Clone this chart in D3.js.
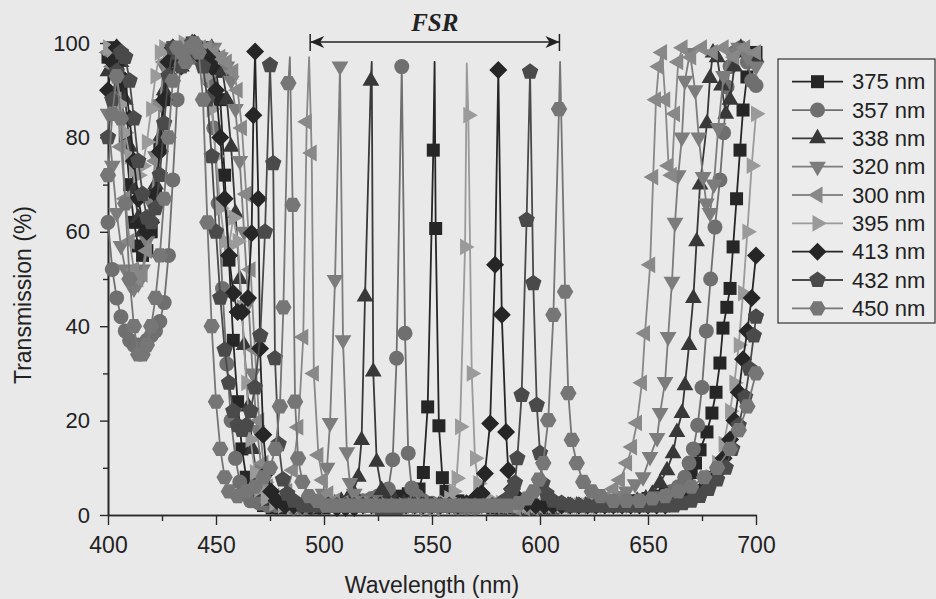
<!DOCTYPE html>
<html>
<head>
<meta charset="utf-8">
<script src="https://cdn.jsdelivr.net/npm/d3@7"></script>
<style>
  html, body { margin: 0; padding: 0; background: #e9e9e9; }
  svg { display: block; }
  text { font-family: "Liberation Sans", Arial, sans-serif; fill: #222; }
</style>
</head>
<body>
<svg id="chart" width="936" height="599"></svg>
<script>
// ---- axis ticks ----
const xMajor = [400, 450, 500, 550, 600, 650, 700];
const xMinor = [425, 475, 525, 575, 625, 675];
const yMajor = [0, 20, 40, 60, 80, 100];
const yMinor = [10, 30, 50, 70, 90];

// ---- free spectral range annotation (nm) ----
const fsrSpan = [493.6, 609];

// ---- legend labels (spacer thickness) ----
const seriesNames = ["375 nm", "357 nm", "338 nm", "320 nm", "300 nm", "395 nm", "413 nm", "432 nm", "450 nm"];

// ---- transmission spectra: [wavelength nm, transmission %] ----
const s375 = [[400,97],[402,99],[404,96],[406,90],[408,80],[410,70],[412,62],[414,57],[416,55],[418,56],[420,60],[422,68],[424,78],[426,88],[428,95],[430,99],[432,98],[434,96],[436,98],[439,100],[442,98],[445,99],[448,97],[450,94],[452,88],[454,72],[456,54],[458,37],[460,24],[462,14],[464,8],[466,5],[469,3],[472,2],[476,1.5],[480,1.5],[484,2],[488,2],[492,1.5],[496,1.5],[500,1.5],[504,2],[508,2],[512,2],[516,2.5],[520,2.5],[524,3],[528,3],[532,3.5],[536,4],[539,4.5],[542,5],[544,5.5],[546,9],[548,22.9],[550.6,77.3],[551.7,60.7],[553.2,18.9],[554.8,7.9],[556.5,5],[559,3.5],[562,3],[566,2.5],[570,2],[574,2],[578,1.5],[582,1.5],[586,1.5],[590,1.5],[594,1.5],[598,1.5],[602,1.5],[606,1.5],[610,2],[614,2],[618,2],[622,2],[626,2],[630,2.5],[634,2.5],[638,3],[642,3],[646,3],[650,3.5],[654,4],[658,4.5],[662,5],[665,5.5],[668,7],[670,9],[672,11],[674.1,13.8],[677.3,17.6],[679.6,21.6],[681.5,26],[683.3,32.2],[684.7,39.6],[686.5,44],[688,48],[689.4,56.8],[691,67],[692.6,77.3],[694,85.8],[695.8,92.8],[697.2,96],[698.6,97.9],[700,98]];
const apex375 = [[551.2,96]];

const s357 = [[400,62],[402,52],[404,46],[406,42],[408,39],[410,37],[412,36],[414,36],[416,36],[418,37],[420,38],[422,39],[424,41],[426,45],[428,55],[430,71],[432,88],[434,97],[437,99],[440,97],[443,99],[445,97],[447,92],[449,82],[451,66],[453,48],[455,32],[457,20],[459,12],[461,7],[463,4.5],[466,3],[470,2.5],[474,2],[478,2],[482,2],[486,1.5],[490,1.5],[494,2],[498,2],[502,2],[506,2.5],[510,2.5],[514,3],[518,3],[522,3.5],[525,4],[528,4.5],[529.8,5.5],[531.8,11.7],[533.6,33.2],[536,95],[537.5,38.5],[539,13.1],[540.6,5.7],[543,4],[546,3],[550,2.5],[554,2],[558,2],[562,1.5],[566,1.5],[570,1.5],[574,2],[578,2],[582,2],[586,2],[590,2],[594,2],[598,2],[602,2],[606,2],[610,2],[614,2],[618,2],[622,2],[626,2],[630,2],[634,2],[638,2.5],[642,2.5],[646,3],[650,3],[654,3.5],[658,4],[661,5],[664,6],[667,8],[669,11],[671,14],[673,19],[675,27],[677,39],[679,50],[681,61],[683.3,71],[685,81],[686.6,90.7],[688,95],[690,98],[693,99],[696,96],[698,92],[700,91]];
const apex357 = [];

const s338 = [[400,94],[402,98],[404,99],[406,96],[408,88],[410,78],[412,69],[414,63],[416,60],[418,60],[420,63],[422,70],[424,80],[426,90],[428,97],[430,99],[432,97],[434,95],[436,97],[439,100],[442,99],[445,98],[448,99],[451,97],[453,94],[455,88],[457,78],[459,64],[461,50],[463,36],[465,23],[467,14],[469,8],[471,5],[474,3],[478,2.5],[482,2],[486,2],[490,2],[494,2],[498,2],[502,2.5],[505,2.5],[508,3],[511,3.5],[513.5,5],[515.9,8.1],[517.4,15.9],[519,46.3],[521.7,92],[522.8,30.4],[524.4,11.3],[526.7,5.3],[529,3.5],[533,3],[537,2.5],[541,2],[545,2],[549,2],[553,2],[557,1.5],[561,1.5],[565,1.5],[569,2],[573,2],[577,2],[581,2],[585,2],[589,2],[593,2],[597,2],[601,2],[605,2],[609,2],[613,2],[617,2],[621,2],[625,2],[629,2],[633,2],[637,2],[641,2.5],[645,3],[649,3.5],[652,4.5],[655.6,6.8],[658.8,9.5],[661.6,13.1],[663.4,17.6],[665.7,21.6],[667.1,27.5],[669,36],[671,46],[672.5,58],[674.1,70],[677.3,83],[678.7,92.6],[680.1,98],[682,97],[684,91],[686,85],[688,88],[690,95],[693,99],[696,98],[700,97]];
const apex338 = [[522.1,96]];

const s320 = [[400,85],[402,74],[404,64],[406,57],[408,52],[410,49],[412,48],[414,49],[416,52],[418,58],[420,66],[422,76],[424,87],[426,95],[428,99],[430,98],[432,96],[434,98],[437,100],[440,99],[443,98],[446,99],[449,99],[452,97],[455,95],[457,92],[459,86],[461,75],[463,60],[465,45],[467,30],[469,18],[471,10],[473,6],[476,3.5],[480,2.5],[484,2],[488,2],[492,2],[495,2.5],[497.5,3],[499.5,4.5],[501.4,10],[502.8,19.5],[505.1,49.8],[507.4,95],[508.8,37],[510.6,13.3],[512,6.8],[514,4.5],[517,3],[521,2.5],[525,2],[529,2],[533,2],[537,2],[541,2],[545,1.5],[549,1.5],[553,1.5],[557,2],[561,2],[565,2],[569,2],[573,2],[577,2],[581,2],[585,2],[589,2],[593,2],[597,2],[601,2],[605,2],[609,2],[613,2],[617,2],[621,2],[625,2],[629,2.5],[633,3],[637,4],[640,5],[644,6.5],[647.7,8],[650.9,12.3],[654.2,16.3],[655.6,21.6],[657.9,28.2],[659.3,37.7],[661.1,49.4],[662.5,61.9],[664,72],[665.7,80],[667.1,92],[669.4,97.9],[671.8,90],[673.5,80],[675.5,71.6],[677,66],[678.7,64],[680.5,70],[682.5,82],[685,93],[688,98],[692,99],[696,97],[700,95]];
const apex320 = [];

const s300 = [[400,98],[402,95],[404,88],[406,78],[408,67],[410,58],[412,52],[414,50],[416,51],[418,56],[420,64],[422,75],[424,87],[426,96],[428,99],[430,97],[432,96],[434,98],[437,100],[440,98],[443,99],[446,99],[449,98],[452,97],[455,96],[458,94],[460,90],[462,82],[464,68],[466,52],[468,35],[470,20],[472,11],[474,6],[477,4],[480,3.5],[483,5],[485.6,9.5],[488.1,18.6],[490.4,37.7],[492,83.3],[494.3,76.7],[495.3,30],[497.4,12.7],[499.5,7.4],[502,4.5],[505,3],[509,2.5],[513,2],[517,2],[521,2],[525,2],[529,2],[533,2],[537,2],[541,2],[545,2],[549,2],[553,2],[557,2],[561,2],[565,2],[569,2],[573,2],[577,2],[581,2],[585,2],[589,1.5],[593,1.5],[597,1.5],[601,2],[605,2],[609,2],[613,2],[617,2],[621,2],[625,2.5],[630,3.5],[634,5.5],[637,7.4],[640.3,11],[642.6,14.4],[644.9,19.5],[647.2,28],[648.6,38.5],[651,53],[652.4,71.6],[653.7,88],[655,95],[656.5,98],[658,88],[659.5,74],[661,72],[662.5,85],[664,96],[666,99],[670,97],[675,99],[680,98],[685,99],[690,97],[695,99],[700,98]];
const apex300 = [[493.1,97]];

const s395 = [[400,99],[402,97],[404,93],[406,87],[408,81],[410,76],[412,73],[414,72],[416,74],[418,79],[420,86],[422,93],[424,98],[426,99],[428,97],[430,96],[432,98],[435,100],[438,98],[441,99],[444,97],[446,93],[448,86],[450,76],[452,65],[454,58],[456,57],[458,63],[460,58],[462,44],[464,28],[466,16],[468,9],[470,5.5],[473,3.5],[477,2.5],[481,2],[485,2],[489,2],[493,2],[497,2],[501,2],[505,2],[509,2],[513,2],[517,2],[521,2],[525,2],[529,2],[533,2],[537,2],[541,2],[545,2],[549,2],[553,2],[556,2.5],[558,3.5],[560,5],[561.4,7.8],[563,18.7],[565.3,56.8],[566.8,84.7],[568.4,30],[569.9,12],[571.4,6.7],[574,4],[578,3],[582,2.5],[586,2],[590,2],[594,2],[598,2],[602,2],[606,2],[610,2],[614,2],[618,2],[622,2],[626,2],[630,2],[634,2],[638,2],[642,2],[646,2],[650,2.5],[654,2.5],[658,3],[662,3],[666,3.5],[670,4],[673,5],[676,6.5],[679,8],[682,11],[685,15],[688,22],[690,28],[692,36],[694,47],[696,60],[698,74],[700,85]];
const apex395 = [[566.1,95.7]];

const s413 = [[400,90],[402,96],[404,99],[406,97],[408,92],[410,84],[412,75],[414,67],[416,62],[418,60],[420,62],[422,68],[424,77],[426,88],[428,96],[430,99],[432,97],[434,95],[437,98],[440,100],[443,97],[446,97],[448,95],[450,90],[452,80],[454,67],[456,55],[458,47],[460,43],[462,43],[464.8,46],[466.5,59.7],[467.3,84.7],[468.1,98.2],[469.6,67],[470.4,35.3],[471.9,17],[473.5,9],[475.5,5],[478,3],[482,2],[486,2],[490,2],[494,2],[498,2],[502,2],[506,1.5],[510,1.5],[514,1.5],[518,2],[522,2],[526,2],[530,2],[534,2],[538,2],[542,2],[546,2],[550,2],[554,2],[558,2],[562,2],[566,2.5],[569,3],[571,4],[573,4.6],[574.5,8.8],[576.9,19.4],[579.2,53],[580.7,94.3],[582.3,42.4],[584.3,17.6],[585.3,9.5],[587,5.5],[590,3.5],[594,2.5],[598,2],[602,2],[606,2],[610,2],[614,2],[618,2],[622,2],[626,2],[630,2],[634,2],[638,2],[642,2],[646,2],[650,2],[654,2],[658,2],[662,2.5],[666,3],[670,4],[674,5],[678,7],[682,9],[685,12],[688,16],[690,20],[692,26],[694,33],[696,39],[698,46],[700,55]];
const apex413 = [];

const s432 = [[400,80],[402,88],[404,94],[406,98],[408,97],[410,92],[412,84],[414,75],[416,68],[418,63],[420,62],[422,65],[424,72],[426,83],[428,93],[430,99],[432,98],[434,95],[436,97],[439,100],[442,98],[444,95],[446,88],[448,76],[450,60],[452,46],[454,35],[456,28],[458,22],[460,19],[462,18],[464,19],[466,22],[468,27],[470.5,38],[472.7,60],[475,95.3],[476.5,74.5],[477.3,33.2],[479,15],[481,7.5],[483,4.5],[486,3],[490,2],[494,2],[498,2],[502,2],[506,2],[510,2],[514,2],[518,2],[522,2],[526,1.5],[530,1.5],[534,1.5],[538,2],[542,2],[546,2],[550,2],[554,2],[558,2],[562,2],[566,2],[570,2],[574,2],[578,2],[582,2.5],[585,3.5],[587,5],[588.4,6.8],[589.5,12],[591.5,25.4],[593.8,62.5],[595.4,93.9],[596.9,49.1],[598.5,23.3],[600,13.1],[601.2,6.7],[603,4.5],[606,3],[610,2.5],[614,2],[618,2],[622,2],[626,2],[630,2],[634,2],[638,2],[642,2],[646,2],[650,2],[654,2],[658,2],[662,2],[666,2.5],[670,3],[674,4],[678,5.5],[682,7.5],[686,10],[689,14],[692,19],[695,25],[697,31],[699,38],[700,42]];
const apex432 = [];

const s450 = [[400,72],[402,85],[404,93],[406,84],[408,66],[410,50],[412,40],[414,34],[416,34],[418,36],[420,40],[422,46],[424,55],[426,67],[428,80],[430,92],[432,99],[434,98],[436,96],[438,99],[440,100],[442,98],[444,88],[446,62],[448,40],[450,24],[452,14],[454,8],[456,5],[460,4],[464,5],[468,6],[472,8],[475,10],[477.5,14],[479.6,23],[481.2,44],[483.5,91.5],[485.5,65.7],[486.6,24],[488,12],[490,7],[493,4],[497,3],[501,2],[505,2],[509,2],[513,2],[517,2],[521,2],[525,2],[529,2],[533,2],[537,2],[541,2],[545,2],[549,2],[553,2],[557,2],[561,2],[565,2],[569,2],[573,2],[577,2],[581,2],[585,2],[590,2.5],[594,3.5],[597,5],[599.5,7.5],[601.5,11],[603.8,20.1],[606.2,42.4],[608.8,86],[611.6,47.3],[613.1,25.8],[614.7,15.9],[617,11],[620,7],[624,5],[628,4],[634,3],[640,3],[646,3],[652,3.5],[658,4],[664,5],[670,6],[676,8],[682,10],[688,14],[692,18],[696,23],[700,30]];
const apex450 = [[484.2,97],[609.3,96]];

// ---- series table (drawing order = legend order) ----
const seriesPts = [s375, s357, s338, s320, s300, s395, s413, s432, s450];
const seriesApex = [apex375, apex357, apex338, apex320, apex300, apex395, apex413, apex432, apex450];
const seriesShape = ["square", "circle", "up", "down", "left", "right", "diamond", "pentagon", "hexagon"];
const seriesColor = ["#262626", "#6f6f6f", "#383838", "#7c7c7c", "#888888", "#9a9a9a", "#262626", "#4a4a4a", "#767676"];
const series = seriesNames.map((name, i) => ({
  name, pts: seriesPts[i], apex: seriesApex[i], shape: seriesShape[i], color: seriesColor[i]
}));

// ---- layout ----
const svg = d3.select("#chart");
const x = d3.scaleLinear().domain([400, 700]).range([108, 756]);
const y = d3.scaleLinear().domain([0, 100]).range([515, 43]);

function poly(p) { return "M" + p.map(q => q[0].toFixed(2) + "," + q[1].toFixed(2)).join("L") + "Z"; }
function regular(n, r, start) {
  const p = [];
  for (let k = 0; k < n; k++) {
    const a = start + k * 2 * Math.PI / n;
    p.push([r * Math.cos(a), r * Math.sin(a)]);
  }
  return poly(p);
}
function markerPath(kind) {
  switch (kind) {
    case "square": return "M-6.5,-6.5H6.5V6.5H-6.5Z";
    case "circle": return "M-7.5,0A7.5,7.5 0 1,0 7.5,0A7.5,7.5 0 1,0 -7.5,0Z";
    case "up": return poly([[0,-9.5],[8.4,5],[-8.4,5]]);
    case "down": return poly([[0,9.5],[8.4,-5],[-8.4,-5]]);
    case "left": return poly([[-9.5,0],[5,-8.4],[5,8.4]]);
    case "right": return poly([[9.5,0],[-5,-8.4],[-5,8.4]]);
    case "diamond": return poly([[0,-9],[9,0],[0,9],[-9,0]]);
    case "pentagon": return regular(5, 8.6, -Math.PI / 2);
    case "hexagon": return regular(6, 8.2, 0);
  }
}

// ---- axes ----
const axisColor = "#2a2a2a";
const gy = svg.append("g").attr("transform", "translate(108,0)")
  .call(d3.axisLeft(y).tickValues(yMajor).tickSize(8).tickSizeOuter(0).tickPadding(10));
const gyMinor = svg.append("g").attr("transform", "translate(108,0)")
  .call(d3.axisLeft(y).tickValues(yMinor).tickSize(5).tickSizeOuter(0).tickFormat(""));
const gx = svg.append("g").attr("transform", "translate(0,515)")
  .call(d3.axisBottom(x).tickValues(xMajor).tickSize(10).tickSizeOuter(0).tickPadding(12));
const gxMinor = svg.append("g").attr("transform", "translate(0,515)")
  .call(d3.axisBottom(x).tickValues(xMinor).tickSize(6).tickSizeOuter(0).tickFormat(""));
[gy, gyMinor, gx, gxMinor].forEach(g => {
  g.selectAll("path.domain").attr("stroke", axisColor).attr("stroke-width", 1.6);
  g.selectAll(".tick line").attr("stroke", axisColor).attr("stroke-width", 1.4);
  g.selectAll(".tick text").attr("fill", "#222").style("font-family", "'Liberation Sans', Arial, sans-serif");
});
gy.selectAll(".tick text").style("font-size", "22px");
gx.selectAll(".tick text").style("font-size", "23px");

svg.append("text").attr("x", 432).attr("y", 593).attr("text-anchor", "middle")
  .style("font-size", "23px").text("Wavelength (nm)");
svg.append("text").attr("transform", "translate(31,295) rotate(-90)").attr("text-anchor", "middle")
  .style("font-size", "23px").text("Transmission (%)");

// ---- spectra ----
const line = d3.line().x(d => x(d[0])).y(d => y(d[1]));
const plot = svg.append("g");
series.forEach(s => {
  const g = plot.append("g");
  const path = s.pts.concat(s.apex).sort((a, b) => a[0] - b[0]);
  g.append("path").attr("d", line(path)).attr("fill", "none")
    .attr("stroke", s.color).attr("stroke-width", 1.8).attr("stroke-linejoin", "round");
  g.selectAll("path.mk").data(s.pts).join("path").attr("class", "mk")
    .attr("d", markerPath(s.shape))
    .attr("transform", d => `translate(${x(d[0])},${y(d[1])})`)
    .attr("fill", s.color);
});

// ---- FSR annotation ----
const fx0 = x(fsrSpan[0]), fx1 = x(fsrSpan[1]), fy = 42;
const ann = svg.append("g").attr("fill", "#222").attr("stroke", "#222");
ann.append("line").attr("x1", fx0).attr("x2", fx1).attr("y1", fy).attr("y2", fy).attr("stroke-width", 1.5);
ann.append("line").attr("x1", fx0).attr("x2", fx0).attr("y1", fy - 8).attr("y2", fy + 9).attr("stroke-width", 1.5);
ann.append("line").attr("x1", fx1).attr("x2", fx1).attr("y1", fy - 8).attr("y2", fy + 9).attr("stroke-width", 1.5);
ann.append("path").attr("stroke", "none")
  .attr("d", `M${fx0},${fy}L${fx0 + 14},${fy - 6}L${fx0 + 10},${fy}L${fx0 + 14},${fy + 6}Z`);
ann.append("path").attr("stroke", "none")
  .attr("d", `M${fx1},${fy}L${fx1 - 14},${fy - 6}L${fx1 - 10},${fy}L${fx1 - 14},${fy + 6}Z`);
svg.append("text").attr("x", (fx0 + fx1) / 2).attr("y", 31).attr("text-anchor", "middle")
  .style("font-family", "'Liberation Serif', 'Times New Roman', serif")
  .style("font-style", "italic").style("font-weight", "bold").style("font-size", "25px")
  .text("FSR");

// ---- legend ----
const lg = svg.append("g");
lg.append("rect").attr("x", 778).attr("y", 59).attr("width", 157).attr("height", 264)
  .attr("fill", "#ececec").attr("stroke", "#333").attr("stroke-width", 1.2);
series.forEach((s, i) => {
  const cy = 81.7 + i * 28.33;
  lg.append("line").attr("x1", 792).attr("x2", 843).attr("y1", cy).attr("y2", cy)
    .attr("stroke", s.color).attr("stroke-width", 1.8);
  lg.append("path").attr("d", markerPath(s.shape)).attr("transform", `translate(817.5,${cy})`)
    .attr("fill", s.color);
  lg.append("text").attr("x", 852).attr("y", cy).attr("dy", "0.35em")
    .style("font-size", "22px").text(s.name);
});
</script>
</body>
</html>
